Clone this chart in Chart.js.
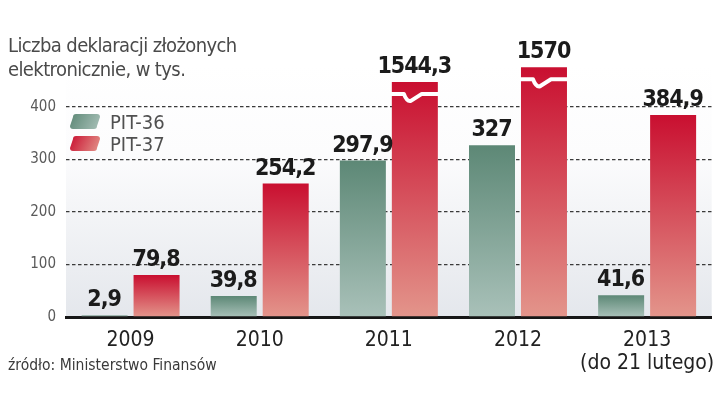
<!DOCTYPE html>
<html><head><meta charset="utf-8">
<script src="https://cdn.jsdelivr.net/npm/chart.js@4.4.1/dist/chart.umd.min.js"></script>
<style>html,body{margin:0;padding:0;background:#fff}#wrap{width:720px;height:406px;position:relative}</style>
</head><body><div id="wrap"><canvas id="c" width="720" height="406"></canvas></div>
<script>
const categories = ['2009', '2010', '2011', '2012', '2013'];
const categoryNotes = ['', '', '', '', '(do 21 lutego)'];
const seriesNames = ['PIT-36', 'PIT-37'];
const pit36 = [2.9, 39.8, 297.9, 327, 41.6];
const pit37 = [79.8, 254.2, 1544.3, 1570, 384.9];
const yTicks = [0, 100, 200, 300, 400];
const titleLines = ['Liczba deklaracji złożonych', 'elektronicznie, w tys.'];
const sourceText = 'źródło: Ministerstwo Finansów';
// broken value axis: values above breakFrom are drawn compressed past the break
const breakFrom = 400, breakResume = 1500, breakFactor = 1.08, axisTop = 480;

const FONT = '"Liberation Sans Narrow", "DejaVu Sans Condensed", "Roboto Condensed", Roboto, sans-serif';
const toAxis = v => v <= breakFrom ? v : breakFrom + (v - breakResume) * breakFactor;
const fmt = v => String(v).replace('.', ',');

const COLORS = {
  green: ['#5d8876', '#a9c1b9'],
  red: ['#c90f30', '#e3958b']
};

function barGradient(pair) {
  return (c) => {
    const ch = c.chart;
    if (!ch.chartArea || c.type !== 'data') return pair[0];
    const y = ch.scales.y;
    const top = y.getPixelForValue(c.parsed.y), bot = y.getPixelForValue(0);
    if (!isFinite(top) || Math.abs(bot - top) < 1) return pair[0];
    const g = ch.ctx.createLinearGradient(0, top, 0, bot);
    g.addColorStop(0, pair[0]);
    g.addColorStop(1, pair[1]);
    return g;
  };
}

const rawValues = [pit36, pit37];

function setSpacing(ctx, v) { if ('letterSpacing' in ctx) ctx.letterSpacing = v; }

const decorPlugin = {
  id: 'decor',
  beforeDraw(chart) {
    const {ctx, chartArea: a} = chart;
    ctx.save();
    const g = ctx.createLinearGradient(0, a.top, 0, a.bottom);
    g.addColorStop(0, '#ffffff');
    g.addColorStop(0.35, '#fcfcfd');
    g.addColorStop(1, '#e4e7ec');
    ctx.fillStyle = g;
    ctx.fillRect(a.left, a.top, a.right - a.left, a.bottom - a.top);
    ctx.restore();
  },
  afterDatasetsDraw(chart) {
    const {ctx} = chart;
    ctx.save();
    // axis break marks on bars exceeding the break
    const meta37 = chart.getDatasetMeta(1);
    meta37.data.forEach((bar, i) => {
      if (pit37[i] <= breakFrom) return;
      const w = bar.width, cx = bar.x, yb = bar.y + 12;
      ctx.strokeStyle = '#ffffff';
      ctx.lineWidth = 4;
      ctx.lineJoin = 'round';
      ctx.beginPath();
      ctx.moveTo(cx - w / 2 - 1, yb);
      ctx.lineTo(cx - 11, yb);
      ctx.quadraticCurveTo(cx - 8, yb + 8, cx - 4, yb + 7);
      ctx.lineTo(cx + 7, yb);
      ctx.lineTo(cx + w / 2 + 1, yb);
      ctx.stroke();
    });
    // value labels
    ctx.fillStyle = '#1b1b1b';
    ctx.font = 'bold 23px ' + FONT;
    setSpacing(ctx, '-1px');
    ctx.textAlign = 'center';
    ctx.textBaseline = 'alphabetic';
    chart.data.datasets.forEach((ds, di) => {
      chart.getDatasetMeta(di).data.forEach((bar, i) => {
        ctx.fillText(fmt(rawValues[di][i]), bar.x - 0.5, bar.y - 9);
      });
    });
    ctx.restore();
  },
  afterDraw(chart) {
    const {ctx, chartArea: a} = chart;
    ctx.save();
    // title
    ctx.fillStyle = '#4a4a4a';
    ctx.font = '20px ' + FONT;
    setSpacing(ctx, '-0.6px');
    ctx.textAlign = 'left';
    ctx.textBaseline = 'alphabetic';
    titleLines.forEach((t, i) => ctx.fillText(t, 8, 52 + i * 24));
    // source
    setSpacing(ctx, '0px');
    ctx.fillStyle = '#3a3a3a';
    ctx.font = '15.5px ' + FONT;
    ctx.fillText(sourceText, 8, 370);
    // legend
    const pairs = [COLORS.green, COLORS.red];
    seriesNames.forEach((name, i) => {
      const x = a.left + 4, y = a.top + 49 + i * 22, w = 30, h = 15, sk = 3;
      const g = ctx.createLinearGradient(x, y, x + w, y + h);
      g.addColorStop(0, pairs[i][0]);
      g.addColorStop(1, pairs[i][1]);
      ctx.fillStyle = g;
      ctx.beginPath();
      const r = 3;
      ctx.moveTo(x + sk + r, y);
      ctx.lineTo(x + w - r, y);
      ctx.quadraticCurveTo(x + w, y, x + w, y + r);
      ctx.lineTo(x + w - sk, y + h - r);
      ctx.quadraticCurveTo(x + w - sk, y + h, x + w - sk - r, y + h);
      ctx.lineTo(x + r, y + h);
      ctx.quadraticCurveTo(x, y + h, x, y + h - r);
      ctx.lineTo(x + sk, y + r);
      ctx.quadraticCurveTo(x + sk, y, x + sk + r, y);
      ctx.closePath();
      ctx.fill();
      ctx.fillStyle = '#505050';
      ctx.font = '20px ' + FONT;
      ctx.fillText(name, x + 40, y + h);
    });
    ctx.restore();
  }
};

const labels = categories.map((c, i) => categoryNotes[i] ? [c, categoryNotes[i]] : c);

new Chart(document.getElementById('c'), {
  type: 'bar',
  data: {
    labels,
    datasets: [
      { label: seriesNames[0], data: pit36.map(toAxis), backgroundColor: barGradient(COLORS.green) },
      { label: seriesNames[1], data: pit37.map(toAxis), backgroundColor: barGradient(COLORS.red) }
    ]
  },
  options: {
    responsive: false,
    animation: false,
    devicePixelRatio: 1,
    layout: { padding: { top: 65, right: 8, bottom: 0, left: 0 } },
    categoryPercentage: 0.805,
    barPercentage: 0.885,
    plugins: { legend: { display: false }, tooltip: { enabled: false } },
    scales: {
      x: {
        grid: { display: false },
        border: { display: true, color: '#161616', width: 3 },
        ticks: { color: '#222', font: { family: FONT, size: 21, lineHeight: 1.05 }, padding: 5, maxRotation: 0, autoSkip: false },
        afterFit: s => { s.height = 89; }
      },
      y: {
        z: 1,
        min: 0,
        max: axisTop,
        afterBuildTicks: s => { s.ticks = yTicks.map(v => ({ value: v })); },
        grid: {
          drawTicks: false,
          color: c => c.tick && c.tick.value === 0 ? 'rgba(0,0,0,0)' : '#3a3a3a',
          lineWidth: 1.3
        },
        border: { display: false, dash: [3.5, 2.5] },
        ticks: { color: '#5a5a5a', font: { family: FONT, size: 15 }, padding: 10 },
        afterFit: s => { s.width = 66; }
      }
    }
  },
  plugins: [decorPlugin]
});
</script>
</body></html>
